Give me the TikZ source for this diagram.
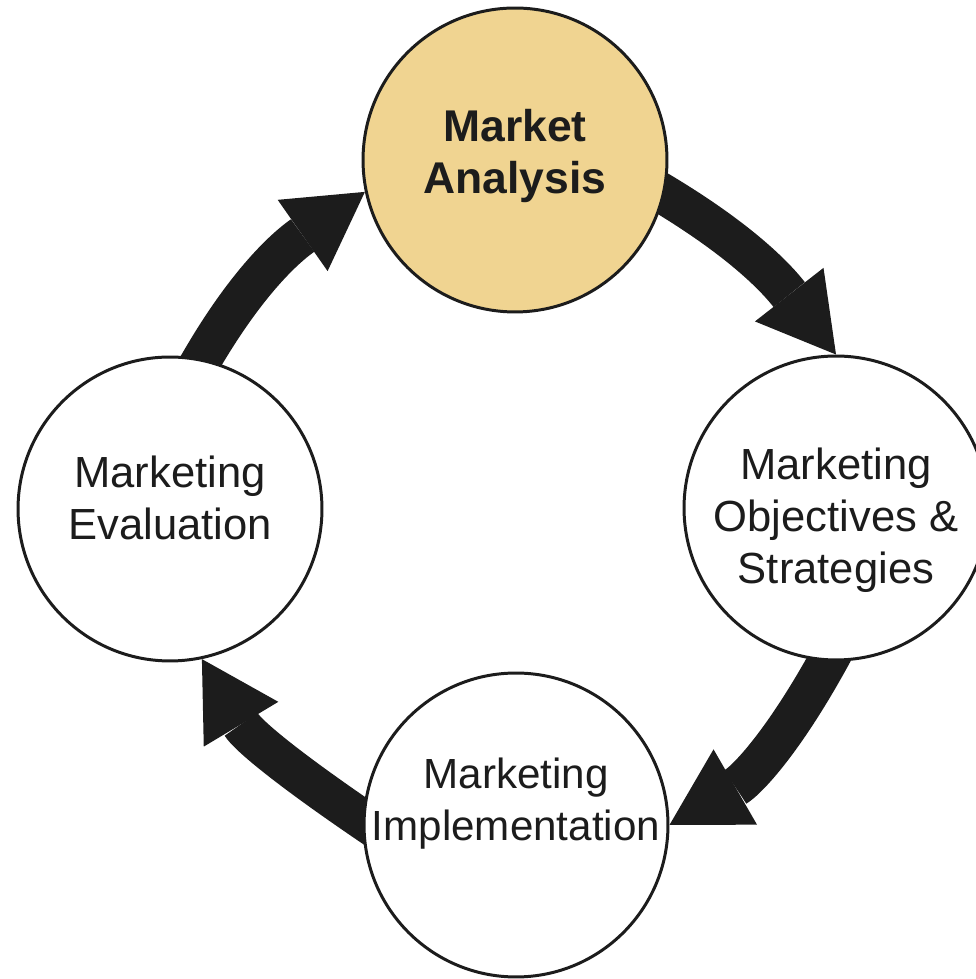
\documentclass[tikz,border=0pt]{standalone}
\usepackage{fontspec}
\setmainfont{Liberation Sans}
\usetikzlibrary{arrows.meta,backgrounds}
\definecolor{ink}{RGB}{28,28,28}
\definecolor{sand}{RGB}{240,212,145}
\newcommand{\capfont}{\fontsize{24.8}{29.5}\selectfont}
\newcommand{\capfontbold}{\fontsize{25.3}{30}\selectfont\bfseries}
\newcommand{\capfontnarrow}{\fontsize{24}{29.5}\selectfont}
\begin{document}
\begin{tikzpicture}[x=0.02cm,y=0.02cm,
  stage/.style={circle,draw=ink,line width=1.7pt,fill=white,
    minimum size=6.08cm,inner sep=0pt},
  caption/.style={align=center,text=ink,font=\capfont},
  flow/.style={draw=ink,line width=0.8cm,shorten <=-0.4cm,
    -{Triangle[length=1.52cm,width=1.74cm,line width=0pt]}}]
  \useasboundingbox (0,0) rectangle (975,979);

  % the four stages of the cycle
  \node[stage,fill=sand] (ma)  at (515,819) {};
  \node[stage]           (mos) at (836,471) {};
  \node[stage]           (mi)  at (516,154) {};
  \node[stage]           (me)  at (170,470) {};

  \node[caption,font=\capfontbold] (ma-txt) at ([yshift=2.3pt]ma.center) {Market\\Analysis};
  \node[caption] (mos-txt) at ([yshift=-6.8pt]mos.center) {Marketing\\Objectives \&\\Strategies};
  \node[caption,font=\capfontnarrow] (mi-txt) at ([yshift=12pt]mi.center) {Marketing\\Implementation};
  \node[caption] (me-txt)  at ([yshift=6.3pt]me.center) {Marketing\\Evaluation};

  % curved arrows, tucked beneath the circles
  \begin{scope}[on background layer]
    \draw[flow] (ma.-13)  to[out=-30,in=128] (mos.north);
    \draw[flow] (mos.-93) to[out=-118,in=30] (mi.east);
    \draw[flow] (mi.178)  to[out=146,in=-59] (me.-78);
    \draw[flow] (me.78)   to[out=61,in=215]  (ma.192);
  \end{scope}
\end{tikzpicture}
\end{document}
